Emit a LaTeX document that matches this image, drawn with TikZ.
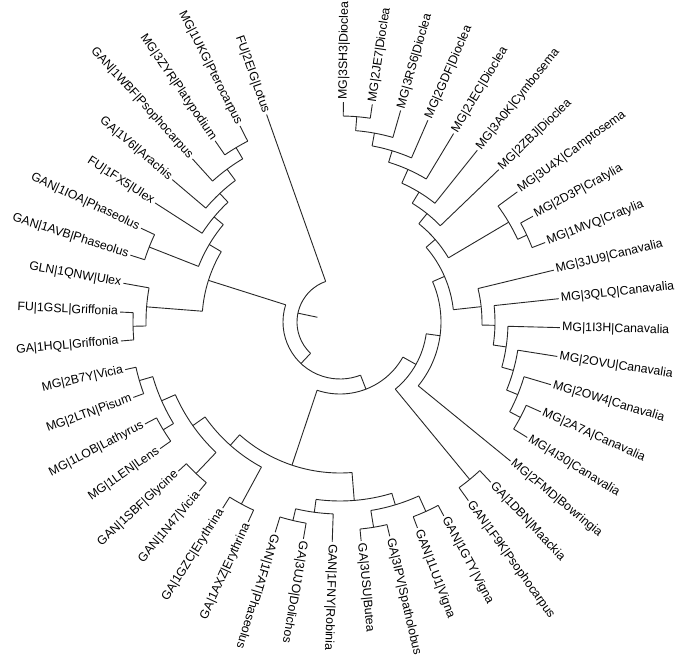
\documentclass[tikz,border=0pt]{standalone}
\usepackage{fontspec}
\setmainfont{Liberation Sans}
\newcommand{\taxfont}{\fontsize{12.3}{14}\selectfont}

\begin{document}
\begin{tikzpicture}[
  x=1pt, y=1pt,
  branch/.style={draw=black!85, line width=0.9pt},
  taxon/.style={font=\taxfont, inner sep=2.2pt, text=black}
]
\useasboundingbox (-340,-337) rectangle (345,322);

% Clades: name / first child angle / last child angle / radius / parent radius
\foreach \nm/\sa/\ea/\rc/\rp in {
  dioA/89.10/81.55/206/192, dioB/85.33/74.01/192/179, dioC/79.67/66.46/179/167,
  dioD/73.07/58.91/167/152, dioE/65.99/51.37/152/139, dioF/58.68/43.82/139/126,
  craA/28.72/21.18/206/196, craB/36.27/24.95/196/126, dioG/51.25/30.61/126/114,
  canF/-24.11/-31.65/204/192, canE/-16.56/-27.88/192/180, canD/-9.01/-22.22/180/168,
  canC/-1.46/-15.62/168/155, canB/6.08/-8.54/155/142, canA/13.63/-1.23/142/114,
  dioH/40.93/6.20/114/101, bowA/23.57/-39.20/101/87, maa/-46.75/-54.29/204/87,
  bowB/-7.82/-50.52/87/72,
  vig/-61.84/-69.39/208/191, but/-76.93/-84.48/208/191, phaA/-65.62/-80.71/191/179,
  dol/-99.58/-107.12/204/192, phaB/-92.03/-103.35/192/179, phaC/-73.17/-97.69/179/151,
  ery/-114.67/-122.22/207/165, gly/-129.76/-137.31/209/180, len/-144.86/-152.40/207/195,
  vic/-159.95/-167.50/209/195, vicB/-148.63/-163.73/195/180, vicC/-133.54/-156.18/180/165,
  vicD/-118.45/-144.86/165/151, midA/-85.43/-131.66/151/72, midB/-29.17/-108.55/72/57,
  gri/177.41/184.95/207/194, griB/169.86/181.18/194/138, pha/162.32/154.77/205/152,
  ptr/124.58/117.03/203/190, ptrB/132.13/120.81/190/176, ptrC/139.68/126.47/176/164,
  ptrD/147.22/133.08/164/152, ptrE/158.55/140.15/152/138, ulx/175.52/149.35/138/57,
  core/162.44/291.14/57/43, root/109.49/226.79/43/23}{
  \pgfmathsetmacro\md{(\sa+\ea)/2}
  \coordinate (\nm) at (\md:\rc);
  \draw[branch] (\sa:\rc) arc[start angle=\sa, end angle=\ea, radius=\rc pt];
  \draw[branch] (\md:\rp) -- (\nm);
}

% Taxa reading outwards
\foreach \i/\lab/\base in {
  0/MG|3SH3|Dioclea/206, 1/MG|2JE7|Dioclea/206, 2/MG|3RS6|Dioclea/192,
  3/MG|2GDF|Dioclea/179, 4/MG|2JEC|Dioclea/167, 5/MG|3A0K|Cymbosema/152,
  6/MG|2ZBJ|Dioclea/139, 7/MG|3U4X|Camptosema/196, 8/MG|2D3P|Cratylia/206,
  9/MG|1MVQ|Cratylia/206, 10/MG|3JU9|Canavalia/142, 11/MG|3QLQ|Canavalia/155,
  12/MG|1I3H|Canavalia/168, 13/MG|2OVU|Canavalia/180, 14/MG|2OW4|Canavalia/192,
  15/MG|2A7A|Canavalia/204, 16/MG|4I30|Canavalia/204, 17/MG|2FMD|Bowringia/101,
  18/GA|1DBN|Maackia/204, 19/GAN|1F9K|Psophocarpus/204, 20/GAN|1GTY|Vigna/208,
  21/GAN|1LU1|Vigna/208, 22/GA|3IPV|Spatholobus/208, 23/GA|3USU|Butea/208,
  24/GAN|1FNY|Robinia/192, 25/GA|3UJO|Dolichos/204, 26/GAN|1FAT|Phaseolus/204}{
  \pgfmathsetmacro\ang{89.1-7.547*\i}
  \node[taxon, anchor=west, rotate=\ang] (t\i) at (\ang:220) {\lab};
  \draw[branch] (\ang:\base) -- (t\i.west);
}

% Taxa reading inwards
\foreach \i/\lab/\base in {
  27/GA|1AXZ|Erythrina/207, 28/GA|1GZC|Erythrina/207, 29/GAN|1N47|Vicia/209,
  30/GAN|1SBF|Glycine/209, 31/MG|1LEN|Lens/207, 32/MG|1LOB|Lathyrus/207,
  33/MG|2LTN|Pisum/209, 34/MG|2B7Y|Vicia/209, 35/GA|1HQL|Griffonia/207,
  36/FU|1GSL|Griffonia/207, 37/GLN|1QNW|Ulex/194, 38/GAN|1AVB|Phaseolus/205,
  39/GAN|1IOA|Phaseolus/205, 40/FU|1FX5|Ulex/164, 41/GA|1V6I|Arachis/176,
  42/GAN|1WBF|Psophocarpus/190, 43/MG|3ZYR|Platypodium/203,
  44/MG|1UKG|Pterocarpus/203, 45/FU|2EIG|Lotus/43}{
  \pgfmathsetmacro\ang{89.1-7.547*\i}
  \node[taxon, anchor=east, rotate=\ang+180] (t\i) at (\ang:220) {\lab};
  \draw[branch] (\ang:\base) -- (t\i.east);
}

\end{tikzpicture}
\end{document}
